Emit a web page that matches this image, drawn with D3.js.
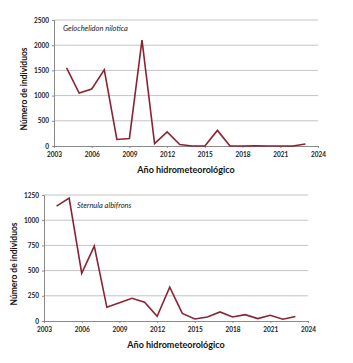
<!DOCTYPE html>
<html><head><meta charset="utf-8">
<script src="https://cdn.jsdelivr.net/npm/d3@7"></script>
<style>
body{margin:0;background:#fff;}
text{font-family:"Lato","Noto Sans",sans-serif;}
</style></head>
<body><svg id="c" width="353" height="363"></svg>
<script>
const years = [2004,2005,2006,2007,2008,2009,2010,2011,2012,2013,2014,2015,2016,2017,2018,2019,2020,2021,2022,2023];
const gelochelidon = [1550,1050,1130,1510,130,150,2100,50,280,30,0,0,310,0,0,5,0,0,0,40];
const sternula = [1140,1220,474,743,136,180,225,186,47,335,75,20,40,90,40,63,24,57,17,44];
const xTicks = [2003,2006,2009,2012,2015,2018,2021,2024];
const yTicksTop = [0,500,1000,1500,2000,2500];
const yTicksBottom = [0,250,500,750,1000,1250];
const speciesTop = "Gelochelidon nilotica";
const speciesBottom = "Sternula albifrons";
const yTitle = "Número de individuos";
const xTitle = "Año hidrometeorológico";

const svg = d3.select("#c");
const lineColor = "#8a2433";

function panel(cfg){
  const x = d3.scaleLinear().domain([2003,2024]).range([cfg.x0,cfg.x1]);
  const y = d3.scaleLinear().domain([0,cfg.ymax]).range([cfg.y0,cfg.y1]);
  const g = svg.append("g");
  g.selectAll("line.grid").data(cfg.yTicks.filter(d=>d>0)).enter().append("line")
    .attr("x1",cfg.x0).attr("x2",cfg.x1).attr("y1",d=>y(d)).attr("y2",d=>y(d))
    .attr("stroke","#c4c4c4").attr("stroke-width",1);
  const ya = g.append("g").attr("transform",`translate(${cfg.x0},0)`)
    .call(d3.axisLeft(y).tickValues(cfg.yTicks).tickFormat(d3.format("d")).tickSize(2).tickPadding(3));
  ya.select(".domain").attr("stroke","#8a8a8a");
  ya.selectAll(".tick line").attr("stroke","#8a8a8a");
  ya.selectAll("text").attr("font-size","6.5px").attr("font-weight","bold").attr("fill","#222");
  const xa = g.append("g").attr("transform",`translate(0,${cfg.y0})`)
    .call(d3.axisBottom(x).tickValues(xTicks).tickFormat(d3.format("d")).tickSize(2).tickPadding(4));
  xa.select(".domain").attr("stroke","#8a8a8a");
  xa.selectAll(".tick line").attr("stroke","#8a8a8a");
  xa.selectAll("text").attr("font-size","6.5px").attr("font-weight","bold").attr("fill","#222");
  const line = d3.line().x((d,i)=>x(years[i])).y(d=>y(d));
  g.append("path").datum(cfg.values).attr("d",line)
    .attr("fill","none").attr("stroke",lineColor).attr("stroke-width",1.6).attr("stroke-linejoin","miter");
  g.append("text").attr("x",cfg.lx).attr("y",cfg.ly).text(cfg.species)
    .attr("font-size","7.5px").attr("font-style","italic").attr("fill","#222");
  g.append("text").attr("x",(cfg.x0+cfg.x1)/2).attr("y",cfg.y0+27).attr("text-anchor","middle")
    .text(xTitle).attr("font-size","9px").attr("font-weight","bold").attr("fill","#111");
  g.append("text").attr("transform",`translate(${cfg.tx},${(cfg.y0+cfg.y1)/2+6}) rotate(-90)`)
    .attr("text-anchor","middle").text(yTitle)
    .attr("font-size","8.5px").attr("font-weight","bold").attr("fill","#111");
}

panel({x0:54,x1:318,y0:146,y1:20,ymax:2500,yTicks:yTicksTop,values:gelochelidon,
  species:speciesTop,lx:63,ly:31,tx:27});
panel({x0:44,x1:308,y0:321,y1:195,ymax:1250,yTicks:yTicksBottom,values:sternula,
  species:speciesBottom,lx:77,ly:208,tx:17});
</script></body></html>
